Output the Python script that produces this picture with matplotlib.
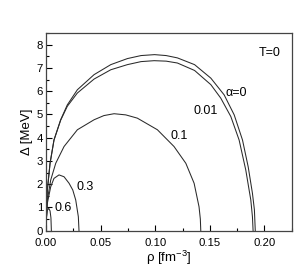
import numpy as np
import matplotlib
matplotlib.use("Agg")
from matplotlib import pyplot as plt
from matplotlib.ticker import MultipleLocator, FormatStrFormatter

plt.rc('font', family=['Liberation Sans', 'DejaVu Sans'])
plt.rc('mathtext', fontset='custom', rm='Liberation Sans', it='Liberation Sans')

# gap curves Delta(rho) [MeV] vs density [fm^-3], T=0
rho_a0 = [0, 0.0003, 0.0012, 0.0037, 0.0073, 0.0134, 0.0195, 0.0287, 0.044, 0.0593,
          0.0745, 0.087, 0.0994, 0.11, 0.1203, 0.136, 0.1509, 0.1631, 0.1723, 0.1799,
          0.1851, 0.189, 0.1908, 0.1916]
gap_a0 = [0, 0.75, 1.75, 2.9, 3.9, 4.77, 5.41, 6.06, 6.71, 7.14,
          7.40, 7.53, 7.57, 7.53, 7.43, 7.14, 6.56, 5.84, 4.98, 3.9,
          2.75, 1.61, 0.9, 0]

rho_a001 = [0, 0.0003, 0.0012, 0.0037, 0.0073, 0.0134, 0.0195, 0.0287, 0.044, 0.0593,
            0.0745, 0.087, 0.099, 0.11, 0.1203, 0.136, 0.1509, 0.16, 0.1692, 0.1768,
            0.1829, 0.1875, 0.189, 0.1896]
gap_a001 = [0, 0.75, 1.75, 2.9, 3.9, 4.75, 5.35, 5.92, 6.52, 6.92,
            7.14, 7.27, 7.31, 7.29, 7.21, 6.89, 6.28, 5.70, 4.91, 3.9,
            2.61, 1.32, 0.6, 0]

rho_a01 = [0, 0.0003, 0.0012, 0.0043, 0.0089, 0.0165, 0.0287, 0.044, 0.053, 0.0623,
           0.073, 0.0836, 0.102, 0.1172, 0.128, 0.1356, 0.1401, 0.1413, 0.1417]
gap_a01 = [0, 0.5, 1.32, 2.18, 2.9, 3.62, 4.34, 4.77, 4.95, 5.03,
           4.98, 4.84, 4.34, 3.62, 2.9, 2.04, 1.03, 0.5, 0]

rho_a03 = [0, 0.0003, 0.0012, 0.0043, 0.0073, 0.0119, 0.0165, 0.0211, 0.0245, 0.0272,
           0.0296, 0.0302]
gap_a03 = [0, 0.5, 1.18, 1.89, 2.25, 2.40, 2.32, 2.04, 1.75, 1.32,
           0.6, 0]

rho_a06 = [0, 0.0004, 0.0012, 0.0025, 0.0037, 0.0045, 0.0049]
gap_a06 = [0, 0.55, 0.88, 0.96, 0.85, 0.55, 0]

curves = [(rho_a0, gap_a0), (rho_a001, gap_a001), (rho_a01, gap_a01),
          (rho_a03, gap_a03), (rho_a06, gap_a06)]
labels = ["\u03b1=0", "0.01", "0.1", "0.3", "0.6"]
label_pos = [(0.1745, 5.94), (0.1463, 5.16), (0.1218, 4.09), (0.0354, 1.89), (0.0158, 0.96)]

fig = plt.figure(figsize=(2.95, 2.75), dpi=100)
ax = fig.add_axes([0.156, 0.161, 0.833, 0.719])

for r, d in curves:
    ax.plot(r, d, color='#2a2a2a', lw=0.75)

for lab, (x, y) in zip(labels, label_pos):
    ax.text(x, y, lab, fontsize=9, ha='center', va='center')
ax.text(0.2045, 7.65, "T=0", fontsize=9, ha='center', va='center')

ax.set_xlim(0, 0.225)
ax.set_ylim(0, 8.5)
ax.xaxis.set_major_locator(MultipleLocator(0.05))
ax.xaxis.set_minor_locator(MultipleLocator(0.025))
ax.yaxis.set_major_locator(MultipleLocator(1))
ax.yaxis.set_minor_locator(MultipleLocator(0.5))
ax.xaxis.set_major_formatter(FormatStrFormatter('%.2f'))
ax.tick_params(direction='in', which='major', length=4, width=0.8, labelsize=8.2)
ax.tick_params(axis='x', pad=5)
ax.tick_params(axis='y', pad=2)
ax.tick_params(direction='in', which='minor', length=2, width=0.8)
for s in ax.spines.values():
    s.set_linewidth(0.9)
    s.set_color('#444444')

ax.set_xlabel("\u03c1 [fm$^{\\mathregular{-3}}$]", fontsize=9.5, labelpad=1)
ax.set_ylabel("\u0394 [MeV]", fontsize=9.5, labelpad=3)

fig.savefig("out.png", dpi=100)
